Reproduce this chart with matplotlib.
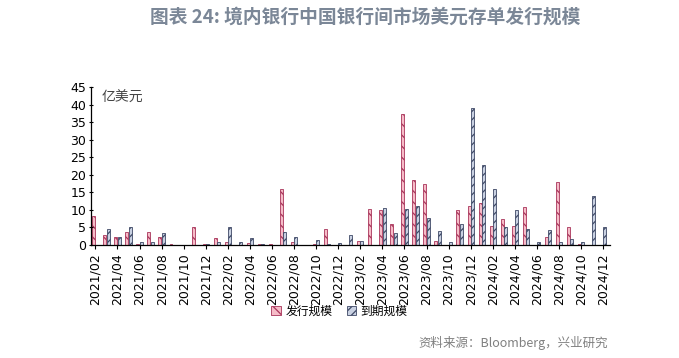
import matplotlib.pyplot as plt
import numpy as np

plt.rcParams['font.family'] = ['DejaVu Sans', 'Noto Sans CJK SC']
plt.rcParams['hatch.linewidth'] = 0.9

# 2021/02 - 2024/12, monthly
months = [f'{y}/{m:02d}' for y in range(2021, 2025) for m in range(1, 13)][1:]
issue = [8.3, 2.8, 2.4, 3.6, 0.3, 3.6, 2.4, 0.2, 0, 5.0, 0.2, 1.9,
         1.0, 0, 0.5, 0.3, 0.2, 16.0, 0.8, 0, 0.2, 4.7, 0, 0,
         1.1, 10.3, 10.0, 5.9, 37.4, 18.5, 17.4, 1.1, 0, 10.0, 11.1, 11.9,
         5.4, 7.3, 5.4, 10.7, 0, 2.4, 18.0, 5.1, 0.3, 0, 0]
mature = [0, 4.7, 2.2, 5.1, 1.0, 0.8, 3.5, 0, 0, 0, 0.2, 0.8,
          5.0, 0.8, 2.1, 0.2, 0, 3.6, 2.4, 0, 1.3, 0.3, 0.6, 2.8,
          1.1, 0, 10.5, 3.5, 10.3, 11.2, 7.6, 4.0, 1.0, 6.0, 39.0, 22.8,
          16.0, 5.0, 10.0, 4.5, 1.0, 4.3, 0.9, 1.6, 0.8, 14.1, 5.1]

x = np.arange(len(months))
w = 0.27

fig = plt.figure(figsize=(6.79, 3.58), dpi=100)
ax = fig.add_axes([0.134, 0.3156, 0.764, 0.4414])

ax.bar(x - 0.15, issue, w, color='#f6bcc8', edgecolor='#a8345a', hatch='\\\\\\', linewidth=0.6, label='发行规模')
ax.bar(x + 0.15, mature, w, color='#c9d1e2', edgecolor='#3f4966', hatch='////', linewidth=0.6, label='到期规模')

ax.set_ylim(0, 45)
ax.set_yticks(range(0, 46, 5))
ax.set_xlim(-0.4, 46.6)
ax.set_xticks(x[::2])
ax.set_xticklabels(months[::2], rotation=90)
ax.tick_params(axis='x', labelsize=9, length=3, width=0.8, pad=3)
ax.tick_params(axis='y', labelsize=9, length=3, width=0.8, direction='inout', pad=2)

for s in ['top', 'right']:
    ax.spines[s].set_visible(False)
for s in ['left', 'bottom']:
    ax.spines[s].set_linewidth(0.9)

ax.text(0.02, 0.93, '亿美元', transform=ax.transAxes, fontsize=10,
        family=['Noto Sans CJK SC'], fontweight='light', color='#444444', va='center')

fig.legend(loc='center', bbox_to_anchor=(0.5, 0.131), ncol=2, frameon=False,
           prop={'family': 'Noto Sans CJK SC', 'size': 8.5},
           handlelength=0.8, handleheight=0.8, columnspacing=1.2, handletextpad=0.4)

fig.text(0.538, 0.952, '图表 24: 境内银行中国银行间市场美元存单发行规模', ha='center', va='center',
         fontsize=13.5, fontweight='bold', color='#7b8797', family=['Noto Sans CJK SC'])
fig.text(0.895, 0.042, '资料来源：Bloomberg，兴业研究', ha='right', va='center',
         fontsize=9, color='#808080', family=['Noto Sans CJK SC'])

plt.savefig('out.png', dpi=100)
